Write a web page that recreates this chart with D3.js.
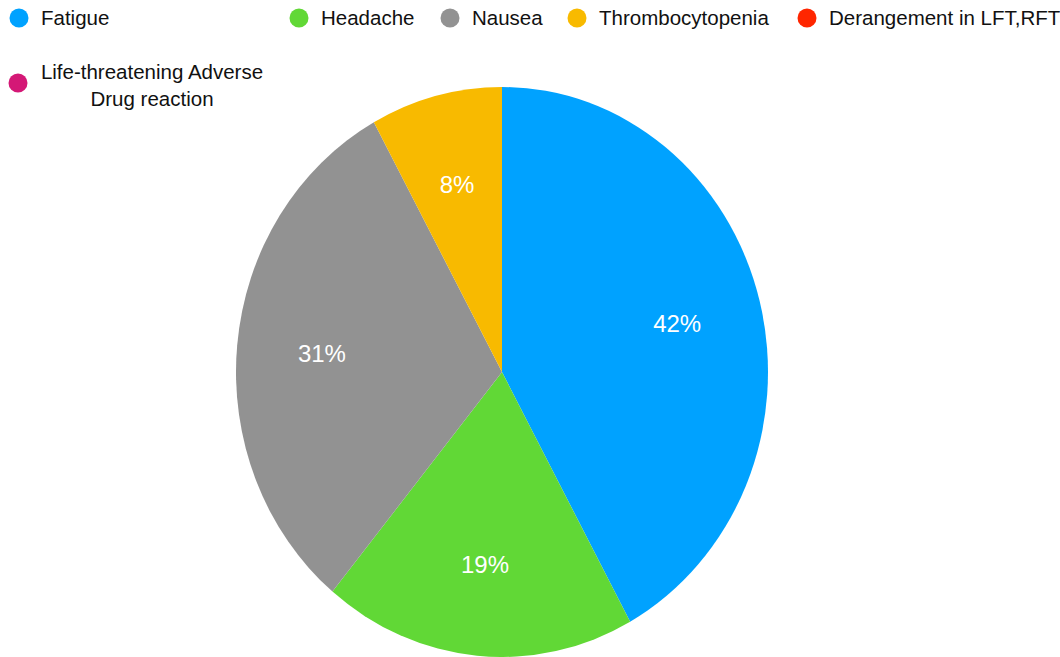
<!DOCTYPE html>
<html>
<head>
<meta charset="utf-8">
<script src="https://cdn.jsdelivr.net/npm/d3@7"></script>
<style>
  html, body { margin: 0; padding: 0; background: #fff; }
  svg { display: block; font-family: "Liberation Sans", Arial, Helvetica, sans-serif; }
</style>
</head>
<body>
<svg id="chart" width="1060" height="657"></svg>
<script>
// data
const categories = ['Fatigue', 'Headache', 'Nausea', 'Thrombocytopenia', 'Derangement in LFT,RFT', 'Life-threatening Adverse Drug reaction'];
const values     = [42, 19, 31, 8, 0, 0];
const colours    = ['#00A2FF', '#61D836', '#929292', '#F8BA00', '#FF2600', '#D41876'];

const W = 1060, H = 657;
const svg = d3.select('#chart');

// pie is drawn slightly taller than wide, as in the reference
const cx = 502, cy = 372, rx = 266, ry = 285;

const pie = d3.pie().sort(null).value(d => d.value);
const arcs = pie(categories.map((c, i) => ({ name: c, value: values[i], colour: colours[i] })))
  .filter(a => a.data.value > 0);

const arc = d3.arc().innerRadius(0).outerRadius(rx);
const labelArc = d3.arc().innerRadius(rx * 0.68).outerRadius(rx * 0.68);

const g = svg.append('g')
  .attr('transform', `translate(${cx},${cy}) scale(1,${ry / rx})`);

g.selectAll('path')
  .data(arcs)
  .enter().append('path')
  .attr('d', arc)
  .attr('fill', d => d.data.colour);

// percentage labels (unscaled text, positioned with the ellipse)
const lg = svg.append('g').attr('transform', `translate(${cx},${cy})`);
lg.selectAll('text')
  .data(arcs)
  .enter().append('text')
  .attr('x', d => labelArc.centroid(d)[0])
  .attr('y', d => labelArc.centroid(d)[1] * ry / rx)
  .attr('dy', '0.35em')
  .attr('text-anchor', 'middle')
  .attr('fill', '#fff')
  .attr('font-size', 24)
  .text(d => Math.round(d.data.value) + '%');

// legend
const legendX = [19, 299, 450, 577, 807, 18];
const legendY = [18, 18, 18, 18, 18, 83];
const fs = 20.5;
const legend = svg.append('g');
categories.forEach((c, i) => {
  const item = legend.append('g').attr('transform', `translate(${legendX[i]},${legendY[i]})`);
  item.append('circle').attr('r', 9.5).attr('fill', colours[i]);
  if (i === 5) {
    const t = item.append('text')
      .attr('font-size', fs).attr('fill', '#111')
      .attr('text-anchor', 'middle');
    t.append('tspan').attr('x', 134).attr('y', -4).text('Life-threatening Adverse');
    t.append('tspan').attr('x', 134).attr('y', 23).text('Drug reaction');
  } else {
    item.append('text')
      .attr('x', 22).attr('dy', '0.35em')
      .attr('font-size', fs).attr('fill', '#111')
      .text(c);
  }
});
</script>
</body>
</html>
